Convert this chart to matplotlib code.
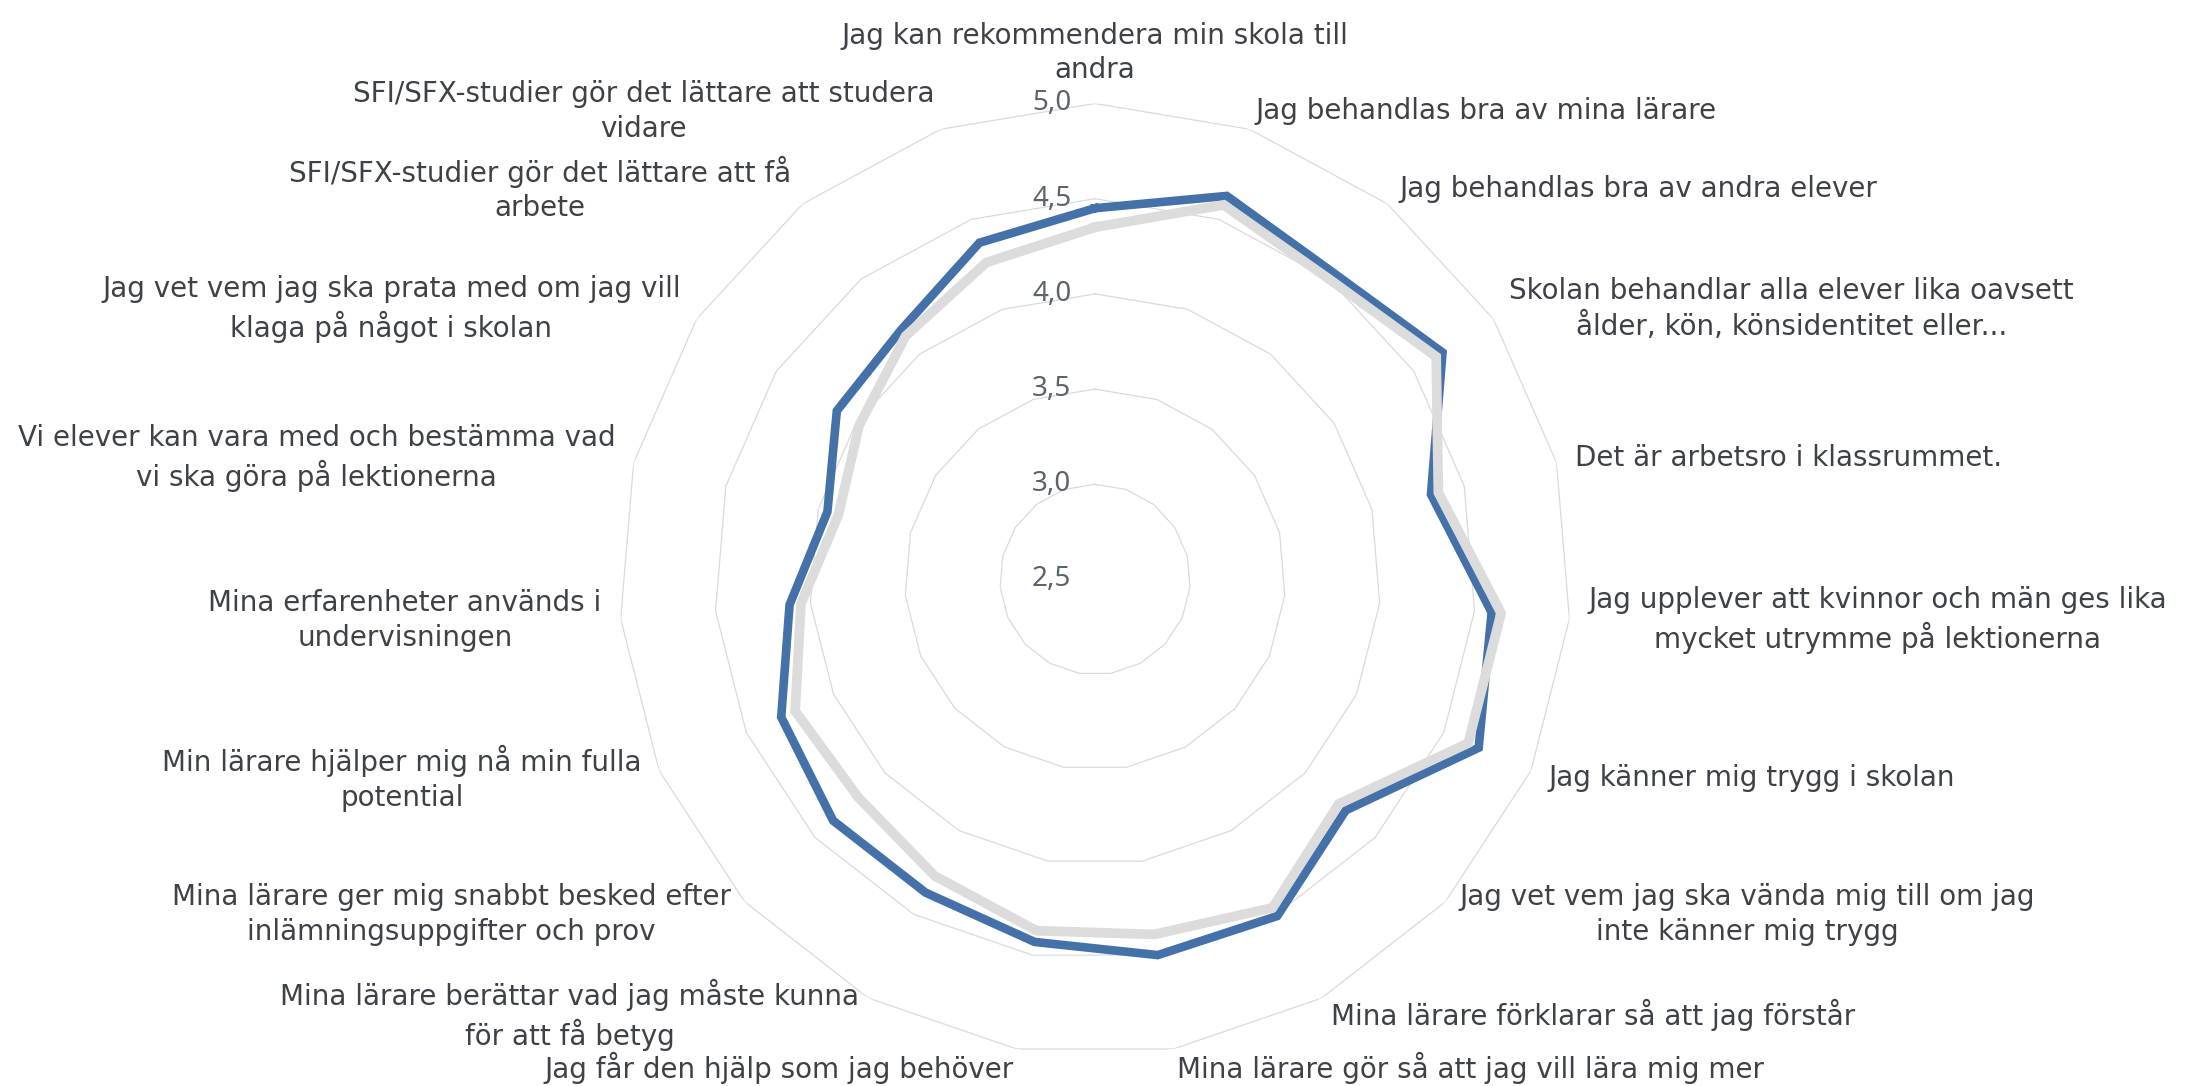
import numpy as np
import matplotlib.pyplot as plt

# frågorna, medurs från toppen
categories = [
    'Jag kan rekommendera min skola till\nandra',
    'Jag behandlas bra av mina lärare',
    'Jag behandlas bra av andra elever',
    'Skolan behandlar alla elever lika oavsett\nålder, kön, könsidentitet eller...',
    'Det är arbetsro i klassrummet.',
    'Jag upplever att kvinnor och män ges lika\nmycket utrymme på lektionerna',
    'Jag känner mig trygg i skolan',
    'Jag vet vem jag ska vända mig till om jag\ninte känner mig trygg',
    'Mina lärare förklarar så att jag förstår',
    'Mina lärare gör så att jag vill lära mig mer',
    'Jag får den hjälp som jag behöver',
    'Mina lärare berättar vad jag måste kunna\nför att få betyg',
    'Mina lärare ger mig snabbt besked efter\ninlämningsuppgifter och prov',
    'Min lärare hjälper mig nå min fulla\npotential',
    'Mina erfarenheter används i\nundervisningen',
    'Vi elever kan vara med och bestämma vad\nvi ska göra på lektionerna',
    'Jag vet vem jag ska prata med om jag vill\nklaga på något i skolan',
    'SFI/SFX-studier gör det lättare att få\narbete',
    'SFI/SFX-studier gör det lättare att studera\nvidare',
]

values_school = [4.45, 4.63, 4.54, 4.68, 4.32, 4.59, 4.70, 4.29, 4.51, 4.50,
                 4.43, 4.37, 4.37, 4.30, 4.11, 3.95, 4.12, 4.16, 4.37]
values_all = [4.35, 4.58, 4.50, 4.64, 4.36, 4.64, 4.64, 4.24, 4.46, 4.39,
              4.37, 4.27, 4.19, 4.22, 4.05, 3.89, 3.98, 4.12, 4.26]

ring_values = [2.5, 3.0, 3.5, 4.0, 4.5, 5.0]
ring_labels = ['2,5', '3,0', '3,5', '4,0', '4,5', '5,0']

plt.rcParams['font.family'] = ['DejaVu Sans']

n = len(categories)
angles = np.arange(n) * 2 * np.pi / n
closed = np.append(angles, angles[0])

fig = plt.figure(figsize=(22.1, 10.86), dpi=100)
ax = fig.add_axes([0.2801, 0.0281, 0.4308, 0.8766], projection='polar')
ax.set_theta_zero_location('N')
ax.set_theta_direction(-1)
ax.set_ylim(2.5, 5.0)
ax.grid(False)
ax.spines['polar'].set_visible(False)
ax.set_xticks([])
ax.set_yticks([])

# rutnät som månghörningar
for rv in ring_values[1:]:
    ax.plot(closed, [rv] * (n + 1), color='#dadada', linewidth=0.9, zorder=1)

# värden längs axeln
for rv, lab in zip(ring_values, ring_labels):
    ax.annotate(lab, xy=(0, rv), xytext=(-17, 0), textcoords='offset points',
                ha='right', va='center', fontsize=20, color='#5d636c',
                family='Noto Sans')

ax.plot(closed, values_school + values_school[:1], color='#4472a8',
        linewidth=6.2, solid_joinstyle='miter', zorder=3)
ax.plot(closed, values_all + values_all[:1], color='#dcdcdc',
        linewidth=7.0, solid_joinstyle='miter', zorder=4)

# frågetexter runt diagrammet
for ang, text in zip(angles, categories):
    x = np.sin(ang)
    if abs(x) < 0.05:
        ha, va = 'center', 'bottom'
    elif x > 0:
        ha, va = 'left', 'center'
    else:
        ha, va = 'right', 'center'
    ax.text(ang, 5.1, text, ha=ha, va=va, ma='center', fontsize=20,
            color='#3d4148', linespacing=1.3, clip_on=False)

plt.savefig('out.png', dpi=100)
